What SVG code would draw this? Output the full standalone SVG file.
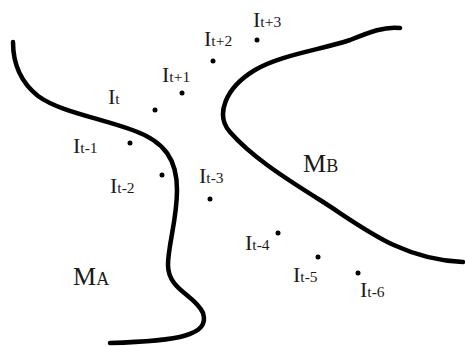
<svg xmlns="http://www.w3.org/2000/svg" width="465" height="346" viewBox="0 0 465 346">
<style>
.bg{fill:#ffffff}
.curve{fill:none;stroke:#000;stroke-width:4.5;stroke-linecap:round;stroke-linejoin:round}
.lbl{font-family:"Liberation Serif","Times New Roman",serif;fill:#1a1a1a}
.big{font-size:22px}
.sub{font-size:15.5px}
.m{font-size:26px}
.sc{font-size:18px}
.dot{fill:#000}
</style>
<rect class="bg" x="0" y="0" width="465" height="346"/>
<g id="boundaries">
<path id="curveA" class="curve" d="M13,42 C13,60 18,80 38,96 C60,112 100,118 135,131 C165,142 177,160 177,190 C177,220 168,245 168,265 C168,290 195,295 203,313 C210,335 180,341 110,343"/>
<path id="curveB" class="curve" d="M400,28 C385,26 370,32 350,40 C320,50 280,55 255,70 C225,88 215,115 230,132 C250,155 280,175 320,200 C360,225 400,260 463,262"/>
</g>
<g id="MA"><text class="lbl" x="73" y="285"><tspan class="m">M</tspan><tspan class="sc">A</tspan></text></g>
<g id="MB"><text class="lbl" x="303" y="172"><tspan class="m">M</tspan><tspan class="sc">B</tspan></text></g>
<g id="It+3"><circle class="dot" cx="257" cy="40" r="2.5"/><text class="lbl" x="253" y="27"><tspan class="big">I</tspan><tspan class="sub">t+3</tspan></text></g>
<g id="It+2"><circle class="dot" cx="213" cy="61" r="2.5"/><text class="lbl" x="204" y="46"><tspan class="big">I</tspan><tspan class="sub">t+2</tspan></text></g>
<g id="It+1"><circle class="dot" cx="182" cy="93" r="2.5"/><text class="lbl" x="162" y="82"><tspan class="big">I</tspan><tspan class="sub">t+1</tspan></text></g>
<g id="It"><circle class="dot" cx="155" cy="110" r="2.5"/><text class="lbl" x="108" y="104"><tspan class="big">I</tspan><tspan class="sub">t</tspan></text></g>
<g id="It-1"><circle class="dot" cx="130" cy="143" r="2.5"/><text class="lbl" x="73" y="153"><tspan class="big">I</tspan><tspan class="sub">t-1</tspan></text></g>
<g id="It-2"><circle class="dot" cx="162" cy="175" r="2.5"/><text class="lbl" x="110" y="193"><tspan class="big">I</tspan><tspan class="sub">t-2</tspan></text></g>
<g id="It-3"><circle class="dot" cx="210" cy="199" r="2.5"/><text class="lbl" x="199" y="183"><tspan class="big">I</tspan><tspan class="sub">t-3</tspan></text></g>
<g id="It-4"><circle class="dot" cx="278" cy="233" r="2.5"/><text class="lbl" x="245" y="250"><tspan class="big">I</tspan><tspan class="sub">t-4</tspan></text></g>
<g id="It-5"><circle class="dot" cx="318" cy="257" r="2.5"/><text class="lbl" x="293" y="282"><tspan class="big">I</tspan><tspan class="sub">t-5</tspan></text></g>
<g id="It-6"><circle class="dot" cx="358" cy="273" r="2.5"/><text class="lbl" x="360" y="297"><tspan class="big">I</tspan><tspan class="sub">t-6</tspan></text></g>
</svg>
